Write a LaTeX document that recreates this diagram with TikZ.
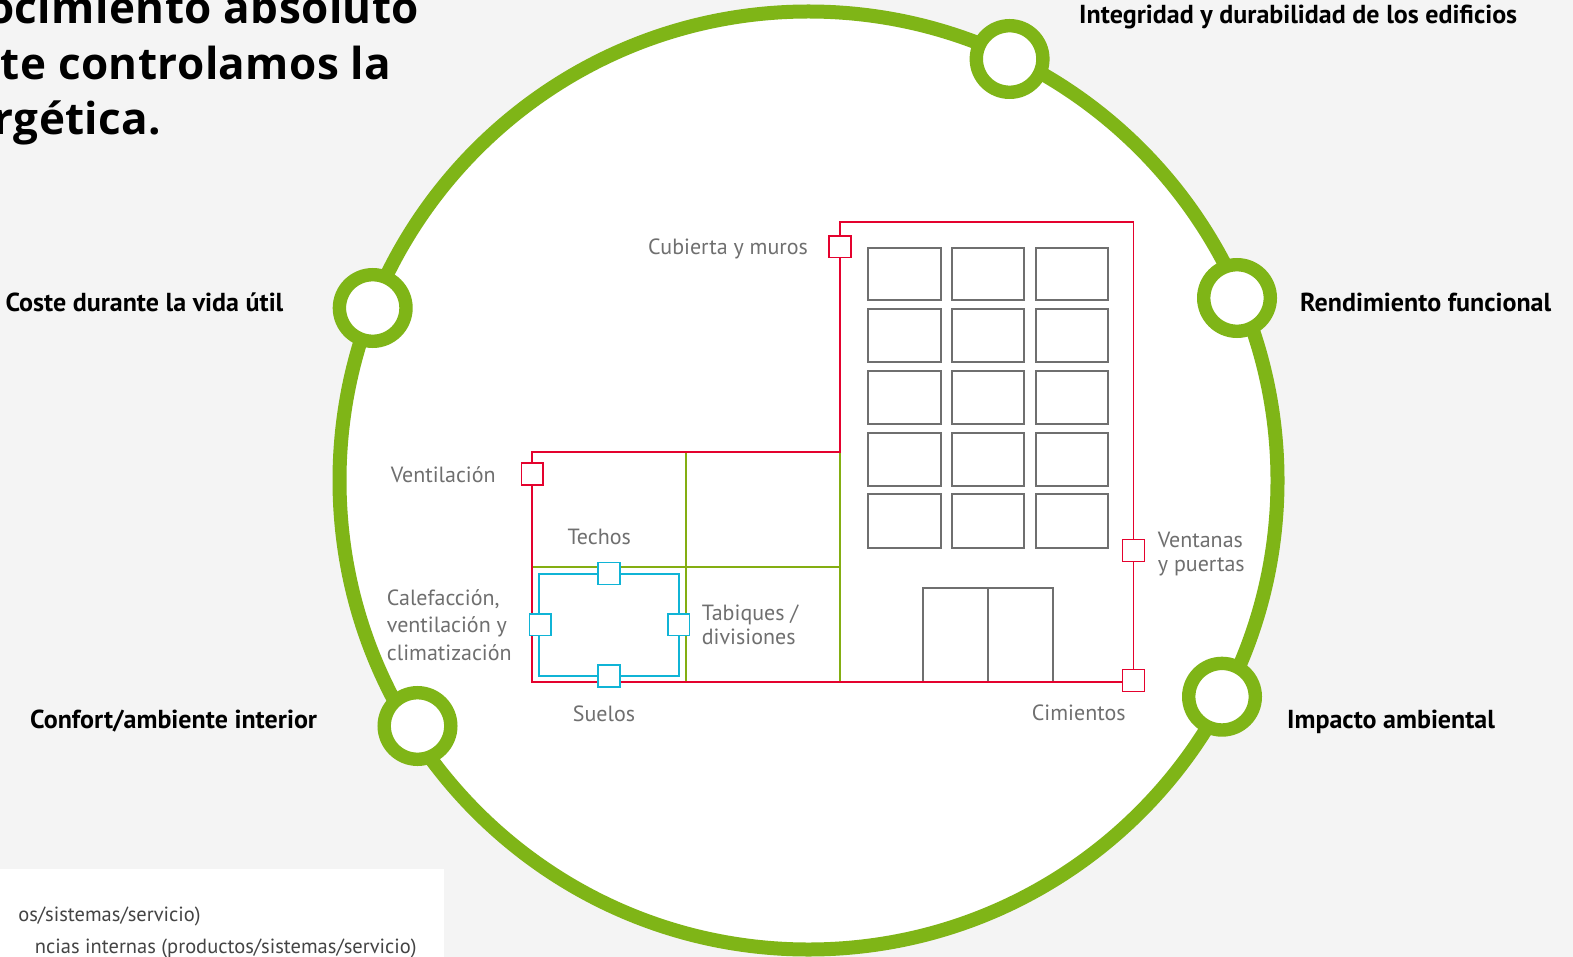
\documentclass[tikz,border=0pt]{standalone}
\usepackage{fontspec}
\setmainfont{PT Sans}
\newfontfamily\headfont[LetterSpace=1]{Open Sans}
\definecolor{bgc}{HTML}{F4F4F4}
\definecolor{grn}{HTML}{7FB517}
\definecolor{lgrn}{HTML}{84AE12}
\definecolor{rd}{HTML}{E4022E}
\definecolor{blu}{HTML}{10B4D6}
\definecolor{gry}{HTML}{6F6F6F}
\definecolor{lgd}{HTML}{444444}
\tikzset{
  hub/.style={circle,draw=grn,fill=white,line width=13.4pt,minimum size=66.6pt,inner sep=0pt,outer sep=0pt},
  redsq/.style={rectangle,draw=rd,fill=white,line width=1.7pt,minimum size=21.8pt,inner sep=0pt},
  blusq/.style={rectangle,draw=blu,fill=white,line width=1.7pt,minimum size=21.8pt,inner sep=0pt},
  pane/.style={draw=gry,fill=white,line width=1.7pt},
  redln/.style={draw=rd,line width=1.7pt},
  grnln/.style={draw=lgrn,line width=1.7pt},
  bluln/.style={draw=blu,line width=1.7pt},
  grylbl/.style={anchor=base west,inner sep=0pt,text=gry,font=\fontsize{22}{26}\selectfont},
  boldlbl/.style={anchor=base west,inner sep=0pt,text=black,font=\fontsize{26}{30}\selectfont\bfseries},
  headlbl/.style={anchor=base east,inner sep=0pt,text=black,font=\fontsize{44}{50}\selectfont\headfont\bfseries},
  lgdlbl/.style={anchor=base east,inner sep=0pt,text=lgd,font=\fontsize{20.5}{24}\selectfont}
}
\begin{document}
\begin{tikzpicture}[x=1pt,y=-1pt]
\useasboundingbox (0,0) rectangle (1573,957);
\clip (0,0) rectangle (1573,957);
\fill[bgc] (0,0) rectangle (1573,957);
\fill[white] (0,869) rectangle (444,957);
% big circle
\node[circle,draw=grn,fill=white,line width=14pt,minimum size=938pt,inner sep=0pt,outer sep=0pt] (ring) at (808.5,480.5) {};
% hubs
\node[hub] (h1) at (1009.6,59) {};
\node[hub] (h2) at (1237,298) {};
\node[hub] (h3) at (1222,696.7) {};
\node[hub] (h4) at (417.5,726) {};
\node[hub] (h5) at (372.7,308) {};
% windows
\foreach \a/\b [count=\r] in {247.7/300.3,309.3/362.3,371.3/423.7,433/485.7,494.3/547.7}{
  \foreach \c/\d [count=\k] in {868.3/940.7,952.3/1024.3,1036/1108.3}{
    \draw[pane] (\c,\a) rectangle (\d,\b);
  }
}
% frame coordinates
\coordinate (rTL) at (840,221.7);
\coordinate (rTR) at (1133.5,221.7);
\coordinate (rBR) at (1133.5,682.3);
\coordinate (rBL) at (532.3,682.3);
\coordinate (rUL) at (532.3,452.3);
\coordinate (rUM) at (840,452.3);
\coordinate (gA) at (685.7,452.3);
\coordinate (gB) at (685.7,682.3);
\coordinate (gC) at (532.3,566.7);
\coordinate (gD) at (840,566.7);
\coordinate (gE) at (840,682.3);
\coordinate (dA) at (923.3,682.3);
\coordinate (dB) at (923.3,587.7);
\coordinate (dC) at (1052.7,587.7);
\coordinate (dD) at (1052.7,682.3);
\coordinate (dE) at (988.3,587.7);
\coordinate (dF) at (988.3,682.3);
\coordinate (bTL) at (539.3,574.3);
\coordinate (bTR) at (678.7,574.3);
\coordinate (bBR) at (678.7,675.7);
\coordinate (bBL) at (539.3,675.7);
% door
\draw[draw=gry,line width=1.7pt] (dA) -- (dB) -- (dC) -- (dD) (dE) -- (dF);
% green partitions
\draw[grnln] (gA) -- (gB);
\draw[grnln] (gC) -- (gD);
\draw[grnln] (rUM) -- (gE);
% red envelope
\draw[redln,line join=miter] (rUM) -- (rTL) -- (rTR) -- (rBR) -- (rBL) -- (rUL) -- cycle;
% blue loop
\draw[bluln] (bTL) rectangle (bBR);
% red squares
\node[redsq] (s1) at (840,246.7) {};
\node[redsq] (s2) at (532.3,474.2) {};
\node[redsq] (s3) at (1133.5,550.5) {};
\node[redsq] (s4) at (1133.5,680.5) {};
% blue squares
\node[blusq] (b1) at (609,573.5) {};
\node[blusq] (b2) at (609,676.2) {};
\node[blusq] (b3) at (540.3,624.7) {};
\node[blusq] (b4) at (678.7,624.7) {};
% grey labels
\node[grylbl] (t1) at (648,255) {Cubierta y muros};
\node[grylbl] (t2) at (390.7,482.7) {Ventilación};
\node[grylbl] (t3) at (567.3,544) {Techos};
\node[grylbl] (t4) at (386.7,605.7) {Calefacción,};
\node[grylbl] (t5) at (386.7,632.7) {ventilación y};
\node[grylbl] (t6) at (386.7,660) {climatización};
\node[grylbl] (t7) at (701.7,620) {Tabiques /};
\node[grylbl] (t8) at (701.7,644.3) {divisiones};
\node[grylbl] (t9) at (572.7,721) {Suelos};
\node[grylbl] (t10) at (1157.7,547.3) {Ventanas};
\node[grylbl] (t11) at (1157.7,571.7) {y puertas};
\node[grylbl] (t12) at (1031.7,720.7) {Cimientos};
% bold labels
\node[boldlbl] (l1) at (1079,23.5) {Integridad y durabilidad de los edificios};
\node[boldlbl] (l2) at (1300,311.7) {Rendimiento funcional};
\node[boldlbl] (l3) at (1287,728) {Impacto ambiental};
\node[boldlbl] (l4) at (30,728) {Confort/ambiente interior};
\node[boldlbl] (l5) at (5.3,311.7) {Coste durante la vida útil};
% heading
\node[headlbl] (p1) at (419.3,23.3) {nocimiento absoluto};
\node[headlbl] (p2) at (391.7,80) {nte controlamos la};
\node[headlbl] (p3) at (161.7,135) {rgética.};
% legend
\node[lgdlbl] (g1) at (200.7,921) {os/sistemas/servicio)};
\node[lgdlbl] (g2) at (416.7,953) {ncias internas (productos/sistemas/servicio)};
\end{tikzpicture}
\end{document}
